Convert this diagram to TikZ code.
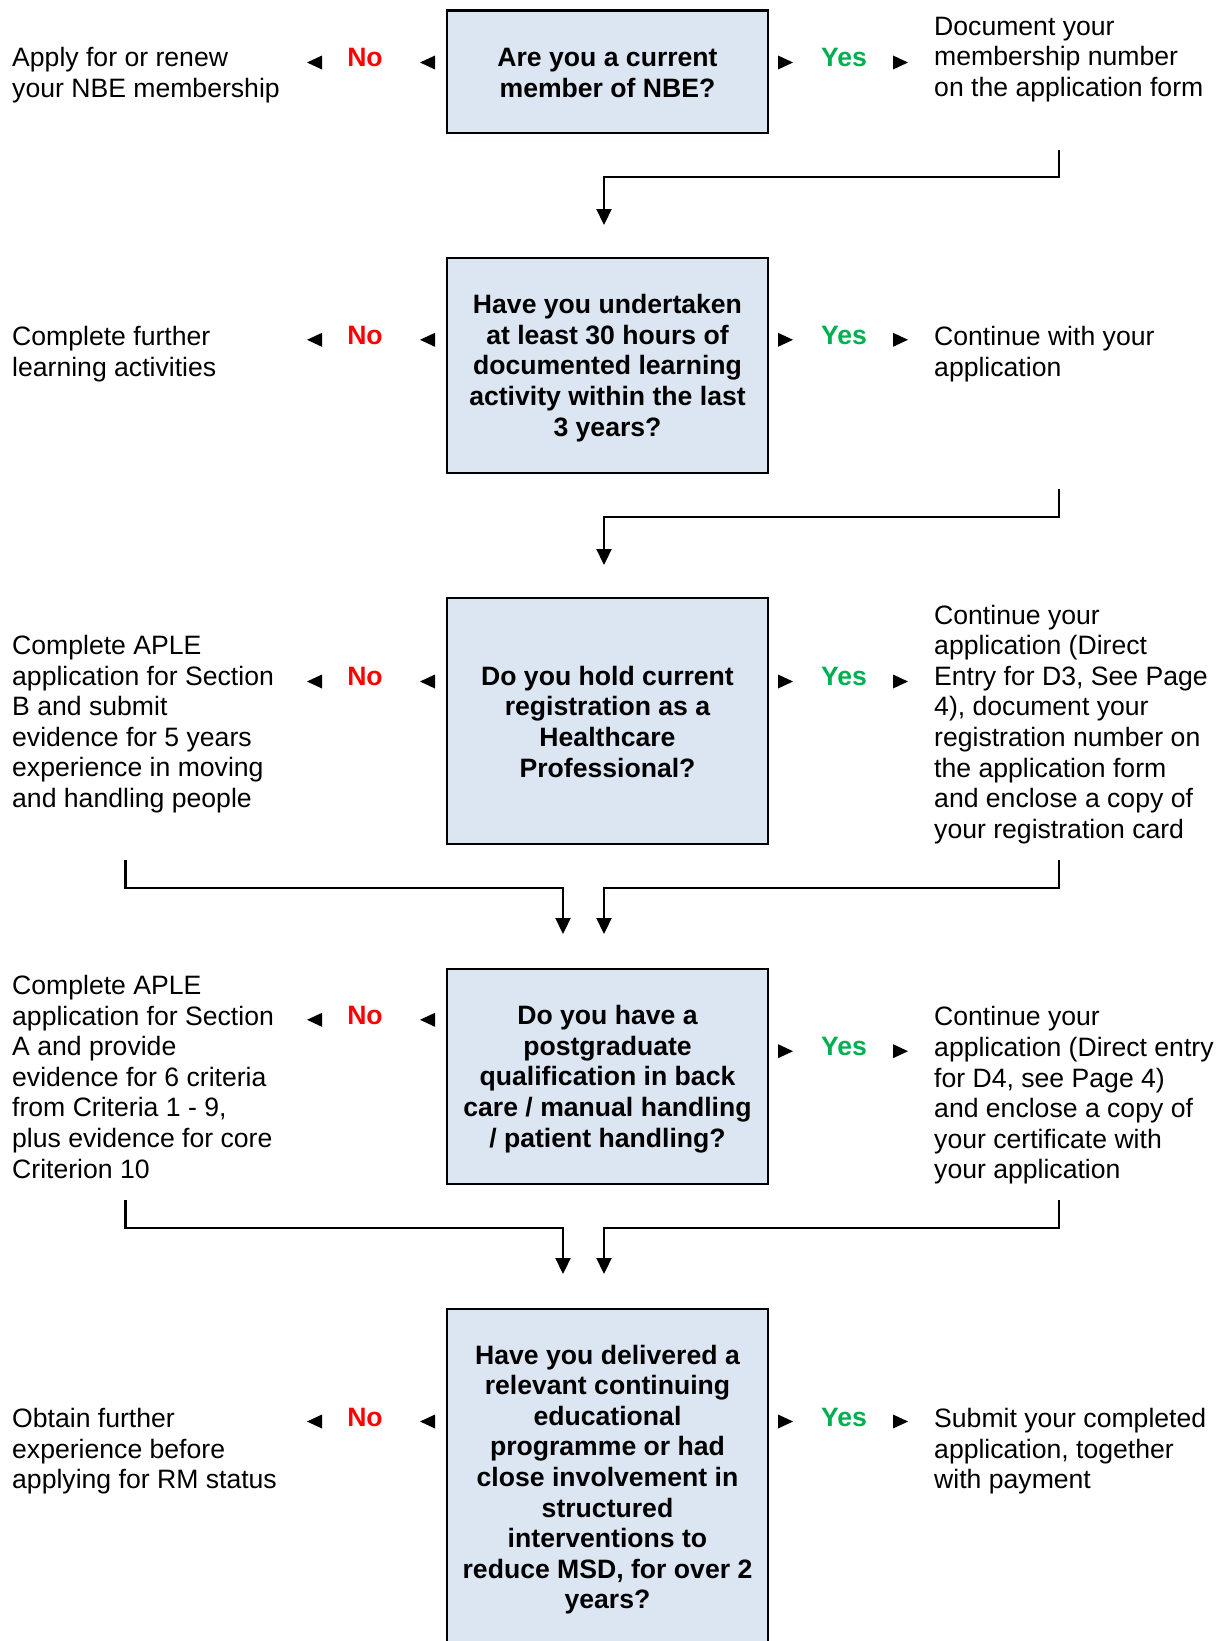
\documentclass[tikz,border=0pt]{standalone}
\usepackage{fontspec}
\setmainfont{Liberation Sans}
\usetikzlibrary{arrows.meta}
\definecolor{boxfill}{HTML}{DCE6F2}
\definecolor{noRed}{HTML}{FF0000}
\definecolor{yesGreen}{HTML}{00B050}
\newcommand\bodyfnt{\fontsize{26.6}{30.6}\selectfont}
\newcommand\ltri[2]{\fill (#1,#2) -- ++(15,-7) -- ++(0,14) -- cycle;}
\newcommand\rtri[2]{\fill (#1,#2) -- ++(-15,-7) -- ++(0,14) -- cycle;}
\begin{document}
\begin{tikzpicture}[x=1pt,y=-1pt,
  every node/.style={font=\bodyfnt, inner sep=0pt},
  qbox/.style={draw, line width=2.5pt, fill=boxfill, minimum width=321pt, align=center, font=\bodyfnt\bfseries},
  ltext/.style={anchor=north west, align=left},
  nolab/.style={anchor=base, text=noRed, font=\bodyfnt\bfseries},
  yeslab/.style={anchor=base, text=yesGreen, font=\bodyfnt\bfseries},
  conn/.style={line width=2.2pt, -{Triangle[length=16pt,width=15pt]}}
]
\useasboundingbox (0,0) rectangle (1223,1641);
\clip (0,0) rectangle (1223,1641);

% question boxes
\node[qbox, minimum height=122.5pt] (q1) at (607.5,71.75) {\rule{0pt}{24.4pt}Are you a current\\member of NBE?\rule[-4pt]{0pt}{4pt}};
\node[qbox, minimum height=215pt] (q2) at (607.5,365.5) {\rule{0pt}{24.4pt}Have you undertaken\\at least 30 hours of\\documented learning\\activity within the last\\3 years?};
\node[qbox, minimum height=246pt] (q3) at (607.5,721) {\rule{0pt}{24.4pt}Do you hold current\\registration as a\\Healthcare\\Professional?\rule[-4pt]{0pt}{4pt}};
\node[qbox, minimum height=215pt] (q4) at (607.5,1076.5) {\rule{0pt}{24.4pt}Do you have a\\postgraduate\\qualification in back\\care / manual handling\\/ patient handling?};
\node[qbox, minimum height=336pt] (q5) at (607.5,1477) {\rule{0pt}{24.4pt}Have you delivered a\\relevant continuing\\educational\\programme or had\\close involvement in\\structured\\interventions to\\reduce MSD, for over 2\\years?};

% left texts
\node[ltext] (l1) at (12,47.1) {Apply for or renew\\your NBE membership};
\node[ltext] (l2) at (12,326.4) {Complete further\\learning activities};
\node[ltext] (l3) at (12,635.1) {Complete APLE\\application for Section\\B and submit\\evidence for 5 years\\experience in moving\\and handling people};
\node[ltext] (l4) at (12,975.1) {Complete APLE\\application for Section\\A and provide\\evidence for 6 criteria\\from Criteria 1 - 9,\\plus evidence for core\\Criterion 10};
\node[ltext] (l5) at (12,1408.2) {Obtain further\\experience before\\applying for RM status};

% right texts
\node[ltext] (r1) at (934,16.8) {Document your\\membership number\\on the application form};
\node[ltext] (r2) at (934,326.4) {Continue with your\\application};
\node[ltext] (r3) at (934,604.6) {Continue your\\application (Direct\\Entry for D3, See Page\\4), document your\\registration number on\\the application form\\and enclose a copy of\\your registration card};
\node[ltext] (r4) at (934,1006.5) {Continue your\\application (Direct entry\\for D4, see Page 4)\\and enclose a copy of\\your certificate with\\your application};
\node[ltext] (r5) at (934,1408.2) {Submit your completed\\application, together\\with payment};

% No / Yes labels
\node[nolab] (no1) at (365,66.5) {No};
\node[yeslab] (yes1) at (844,66.5) {Yes};
\node[nolab] (no2) at (365,344.8) {No};
\node[yeslab] (yes2) at (844,344.8) {Yes};
\node[nolab] (no3) at (365,685.8) {No};
\node[yeslab] (yes3) at (844,685.8) {Yes};
\node[nolab] (no4) at (365,1024.8) {No};
\node[yeslab] (yes4) at (844,1055.7) {Yes};
\node[nolab] (no5) at (365,1426.8) {No};
\node[yeslab] (yes5) at (844,1426.8) {Yes};

% arrow markers
\ltri{307}{62.5} \ltri{420}{62.5} \rtri{793}{62.5} \rtri{908}{62.5}
\ltri{307}{339.8} \ltri{420}{339.8} \rtri{793}{339.8} \rtri{908}{339.8}
\ltri{307}{681.5} \ltri{420}{681.5} \rtri{793}{681.5} \rtri{908}{681.5}
\ltri{307}{1019.8} \ltri{420}{1019.8} \rtri{793}{1051.2} \rtri{908}{1051.2}
\ltri{307}{1421.5} \ltri{420}{1421.5} \rtri{793}{1421.5} \rtri{908}{1421.5}

% connectors
\coordinate (s1) at (1059,150);
\coordinate (e1) at (604,225);
\draw[conn] (s1) -- (1059,177) -| (e1);

\coordinate (s2) at (1059,489);
\coordinate (e2) at (604,565);
\draw[conn] (s2) -- (1059,517) -| (e2);

\coordinate (s3l) at (125.5,860);
\coordinate (e3l) at (563,934);
\draw[conn] (s3l) -- (125.5,888) -| (e3l);
\coordinate (s3r) at (1059,860);
\coordinate (e3r) at (604,934);
\draw[conn] (s3r) -- (1059,888) -| (e3r);

\coordinate (s4l) at (125.5,1200);
\coordinate (e4l) at (563,1274);
\draw[conn] (s4l) -- (125.5,1228) -| (e4l);
\coordinate (s4r) at (1059,1200);
\coordinate (e4r) at (604,1274);
\draw[conn] (s4r) -- (1059,1228) -| (e4r);
\end{tikzpicture}
\end{document}
